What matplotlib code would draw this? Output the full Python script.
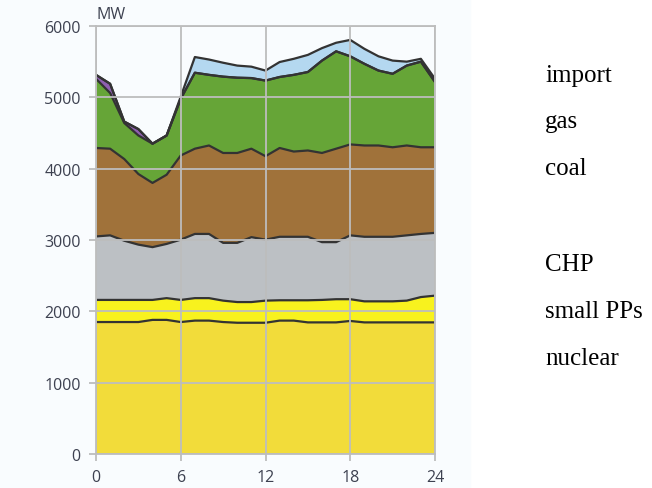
import numpy as np
import matplotlib.pyplot as plt
from matplotlib.patches import Rectangle

# hourly generation by source (MW)
hours = np.arange(0, 25)
nuclear = [1850, 1850, 1850, 1850, 1880, 1880, 1850, 1870, 1870, 1850, 1840, 1840, 1840,
           1870, 1870, 1845, 1845, 1845, 1865, 1845, 1845, 1845, 1845, 1845, 1845]
small_pps = [310, 310, 310, 310, 280, 305, 310, 315, 315, 300, 290, 290, 310,
             285, 285, 310, 315, 325, 305, 295, 295, 295, 305, 355, 375]
chp = [890, 905, 830, 775, 740, 760, 845, 900, 900, 810, 830, 910, 855,
       890, 890, 890, 810, 800, 895, 905, 905, 905, 915, 885, 880]
coal = [1240, 1215, 1145, 990, 900, 970, 1180, 1195, 1240, 1260, 1260, 1240, 1170,
        1245, 1195, 1210, 1250, 1310, 1275, 1280, 1280, 1255, 1260, 1215, 1200]
gas = [970, 780, 505, 540, 550, 550, 795, 1065, 990, 1070, 1055, 990, 1060,
       995, 1075, 1100, 1295, 1365, 1235, 1145, 1050, 1030, 1120, 1200, 915]
other = [55, 130, 20, 90, 0, 0, 0, 0, 0, 0, 0, 0, 0,
         0, 0, 0, 0, 0, 0, 0, 0, 0, 0, 0, 0]
imports = [0, 0, 0, 0, 0, 0, 30, 220, 215, 195, 170, 160, 140,
           210, 225, 240, 175, 120, 230, 210, 200, 185, 55, 40, 45]

layers = [nuclear, small_pps, chp, coal, gas, other, imports]
colors = ['#f2dc3a', '#f8f21e', '#bcc0c4', '#a0723a', '#66a537', '#8e5fb0', '#b4d8f0']
labels = ['import', 'gas', 'coal', '', 'CHP', 'small PPs', 'nuclear']

fig = plt.figure(figsize=(6.52, 4.89), dpi=100)
fig.patches.append(Rectangle((0, 0), 470 / 652, 1, transform=fig.transFigure,
                             color='#f9fcfe', zorder=-1))
ax = fig.add_axes([96 / 652, 1 - 455 / 489, 339 / 652, 428 / 489])
ax.set_facecolor('#f9fcfe')

ax.stackplot(hours, *layers, colors=colors, linewidth=0)
tops = np.cumsum(np.array(layers), axis=0)
for t in tops:
    ax.plot(hours, t, color='#333333', lw=1.6, solid_joinstyle='round')

ax.set_xlim(0, 24)
ax.set_ylim(0, 6000)
ax.set_xticks([0, 6, 12, 18, 24])
ax.set_yticks(range(0, 6001, 1000))
ax.set_axisbelow(False)
ax.grid(True, color='#bdbdbd', lw=1.3)
for s in ax.spines.values():
    s.set_color('#bdbdbd')
    s.set_linewidth(1.3)
ax.tick_params(colors='#bdbdbd', length=5, width=1.3, labelcolor='#3d4150',
               labelsize=11.5)
ax.tick_params(axis='y', pad=6)
ax.tick_params(axis='x', pad=6)
for lab in ax.get_xticklabels() + ax.get_yticklabels():
    lab.set_family('Open Sans')

ax.text(0.0, 1.01, 'MW', transform=ax.transAxes, fontsize=11.5, family='Open Sans',
        color='#3d4150', ha='left', va='bottom')

# text legend on the right
baselines = [82, 128, 175, 222, 271, 318, 365]
for lab, yb in zip(labels, baselines):
    if lab:
        fig.text(545 / 652, 1 - yb / 489, lab, family='Liberation Serif', fontsize=18,
                 color='black', va='baseline', ha='left')

fig.savefig('out.png', dpi=100)
